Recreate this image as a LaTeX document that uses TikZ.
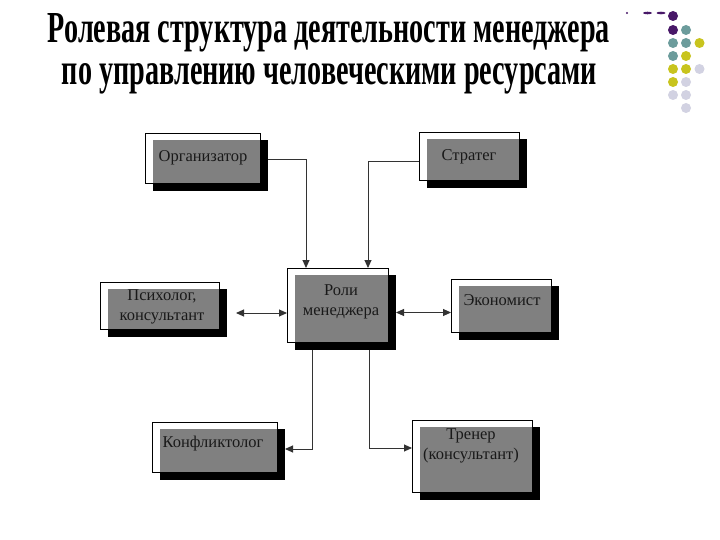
\documentclass[tikz,border=0pt]{standalone}
\usepackage{fontspec}
\setmainfont{Liberation Serif}
\usepackage{graphicx}
\usetikzlibrary{calc,arrows.meta}

\definecolor{boxgray}{RGB}{128,128,128}
\definecolor{dpurple}{RGB}{72,24,104}
\definecolor{dteal}{RGB}{108,156,156}
\definecolor{dyellow}{RGB}{200,196,30}
\definecolor{dlav}{RGB}{210,210,226}
\definecolor{txt}{RGB}{25,25,25}

\newcommand\rolebox[5]{%
  \node[frame, minimum width={#4-#2}, minimum height={#5-#3}, anchor=north west] (#1f) at (#2,#3) {};
  \node[shadowbox, minimum width={#4-#2}, minimum height={#5-#3+1}, anchor=north west] (#1s) at (#2+8,#3+7) {};
  \node[graybox, minimum width={#4-#2-8}, minimum height={#5-#3-7}, anchor=north west] (#1g) at (#2+8,#3+7) {};
}

\begin{document}
\begin{tikzpicture}[x=1pt,y=-1pt,
  frame/.style={draw=black, line width=0.9pt, fill=white, inner sep=0pt, outer sep=0pt},
  shadowbox/.style={fill=black, inner sep=0pt, outer sep=0pt},
  graybox/.style={fill=boxgray, inner sep=0pt, outer sep=0pt},
  lbl/.style={anchor=base, inner sep=0pt, font=\fontsize{16.5}{19.5}\selectfont, text=txt, align=center},
  arr/.style={draw=black!80, line width=0.9pt, -{Triangle[length=8pt,width=7pt]}},
  darr/.style={draw=black!80, line width=0.9pt, {Triangle[length=8pt,width=7pt]}-{Triangle[length=8pt,width=7pt]}},
  dot/.style={circle, inner sep=0pt, minimum size=10pt}]
\useasboundingbox[fill=white] (0,0) rectangle (720,540);

% title
\node[anchor=base, inner sep=0pt] (t1) at (329,43)
  {\resizebox{562pt}{29pt}{\bfseries Ролевая структура деятельности менеджера}};
\node[anchor=base, inner sep=0pt] (t2) at (329.5,85)
  {\resizebox{535pt}{21pt}{\bfseries по управлению человеческими ресурсами}};

% decorative dots
\foreach \p in {(673,16),(673,30)} \node[dot, fill=dpurple] at \p {};
\foreach \p in {(686,30),(673,43),(686,43),(673,56)} \node[dot, fill=dteal] at \p {};
\foreach \p in {(699.5,43),(686,56),(673,69),(686,69),(673,82)} \node[dot, fill=dyellow] at \p {};
\foreach \p in {(699.5,69),(686,82),(673,95),(686,95),(686,108)} \node[dot, fill=dlav] at \p {};
\fill[dpurple] (627,13) circle (1.2);
\fill[dpurple] (647.5,13) ellipse (4.5 and 1.3);
\fill[dpurple] (661,13) ellipse (4.5 and 1.3);

% boxes
\rolebox{org}{145}{133}{260}{183}
\rolebox{str}{419}{132}{519}{180}
\rolebox{psy}{100}{282}{219}{329}
\rolebox{rol}{287}{268}{388}{342}
\rolebox{eco}{451}{279}{551}{332}
\rolebox{con}{152}{422}{277}{472}
\rolebox{tre}{412}{420}{532}{492}

% labels (multi-line: base = last line)
\node[lbl] (orgt) at (203,161.5) {Организатор};
\node[lbl] (strt) at (469,161) {Стратег};
\node[lbl] (psyt) at (162,320) {Психолог,\\консультант};
\node[lbl] (rolt) at (341,315) {Роли\\менеджера};
\node[lbl] (ecot) at (502,305) {Экономист};
\node[lbl] (cont) at (213,447) {Конфликтолог};
\node[lbl] (tret) at (471,459) {Тренер\\(консультант)};

% connectors
\draw[arr] ($(orgs.north east)+(0,19)$) -| ($(rolf.north west)+(19,0)$);
\draw[arr] ($(strf.north west)+(0,29)$) -| ($(rolf.north west)+(81,0)$);
\coordinate (psyend) at ($(psys.east)+(9,0)$);
\draw[darr] (psyend) -- (rolf.west |- psyend);
\draw[darr] (rols.east) -- (ecof.west |- rols.east);
\draw[arr] ($(rols.south west)+(17,0)$) |- ($(cons.north east)+(0,20)$);
\draw[arr] ($(rols.south west)+(74,0)$) |- ($(tref.north west)+(0,28)$);
\end{tikzpicture}
\end{document}
